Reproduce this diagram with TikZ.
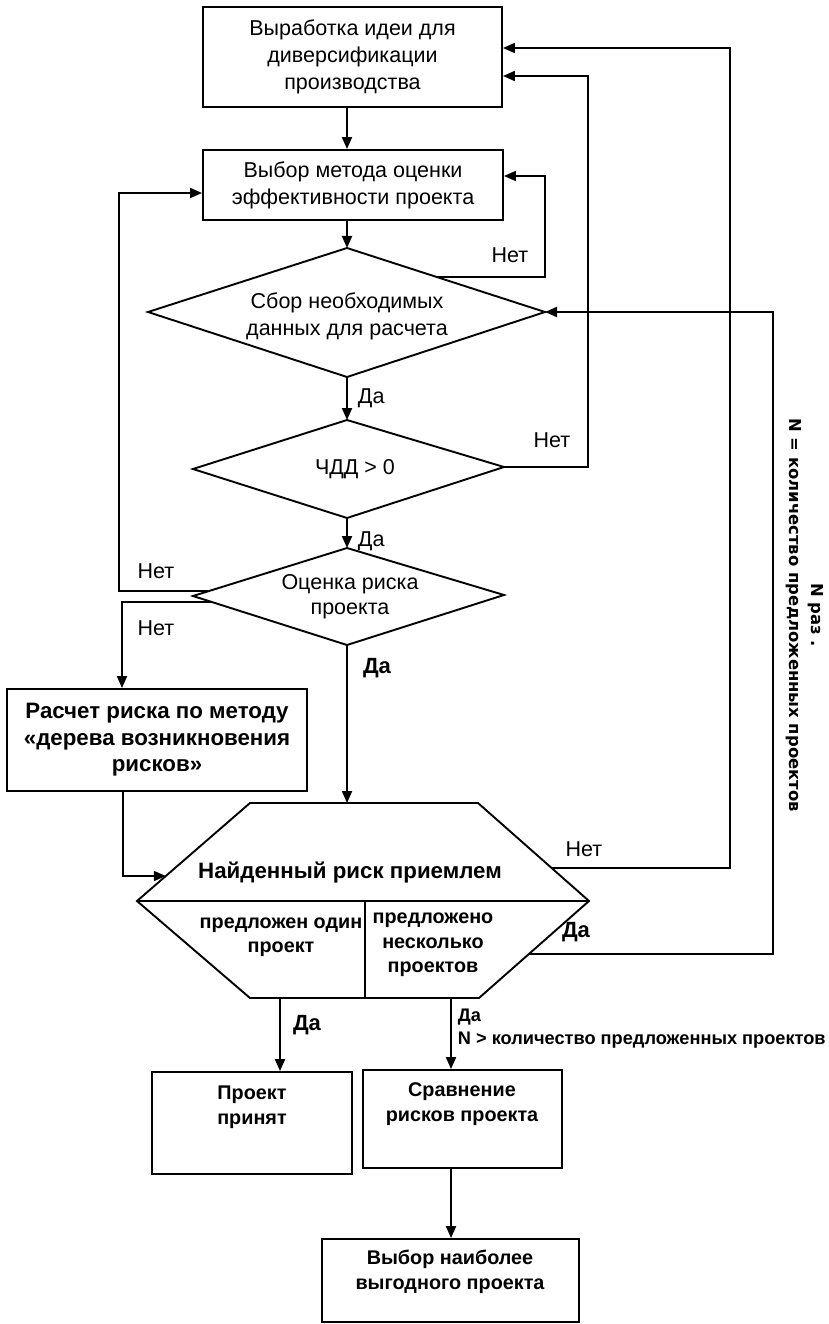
\documentclass[tikz,border=0pt]{standalone}
\usepackage{fontspec}
\setmainfont{Liberation Sans}
\newfontfamily\rotfont{DejaVu Sans}
\usetikzlibrary{arrows.meta,calc}
\begin{document}
\begin{tikzpicture}[x=1pt,y=-1pt,line width=1.9pt,line join=miter,
  box/.style={draw,line width=1.9pt,inner sep=0pt},
  arr/.style={-{Triangle[length=12pt,width=10pt]},line width=1.9pt},
  reg/.style={font=\fontsize{21.5}{27}\selectfont,align=center,inner sep=0pt},
  bld/.style={font=\fontsize{22.3}{26.5}\selectfont\bfseries,align=center,inner sep=0pt},
  sbld/.style={font=\fontsize{19.8}{24.5}\selectfont\bfseries,align=center,inner sep=0pt},
  lab/.style={font=\fontsize{21.5}{27}\selectfont,inner sep=0pt},
  blab/.style={font=\fontsize{22}{23}\selectfont\bfseries,inner sep=0pt}]
\useasboundingbox (0,0) rectangle (829,1324);

% boxes
\node[box,minimum width=299pt,minimum height=100pt,reg] (b1) at (352.5,57) {Выработка идеи для\\диверсификации\\производства};
\node[box,minimum width=300pt,minimum height=70pt,reg] (b2) at (353,185) {Выбор метода оценки\\эффективности проекта};
\node[box,minimum width=300pt,minimum height=102pt,bld] (rasch) at (157,740) {Расчет риска по методу\\«дерева возникновения\\рисков»};
\node[box,minimum width=200pt,minimum height=102pt] (proj) at (252,1123) {};
\node[sbld] (projt) at (252,1107) {Проект\\принят};
\node[box,minimum width=199pt,minimum height=98pt] (srav) at (462.5,1119) {};
\node[sbld] (sravt) at (462,1104) {Сравнение\\рисков проекта};
\node[box,minimum width=257pt,minimum height=83pt] (vyb) at (450.5,1280.5) {};
\node[sbld] (vybt) at (450,1272) {Выбор наиболее\\выгодного проекта};

% diamonds
\coordinate (d1n) at (347,248); \coordinate (d1e) at (545,312);
\coordinate (d1s) at (347,377); \coordinate (d1w) at (148,312);
\draw (d1n) -- (d1e) -- (d1s) -- (d1w) -- cycle;
\node[reg] (d1t) at (347,316) {Сбор необходимых\\данных для расчета};

\coordinate (d2n) at (347,420); \coordinate (d2e) at (504,467);
\coordinate (d2s) at (347,518); \coordinate (d2w) at (193,469);
\draw (d2n) -- (d2e) -- (d2s) -- (d2w) -- cycle;
\node[reg] (d2t) at (355,469) {ЧДД > 0};

\coordinate (d3n) at (347,548); \coordinate (d3e) at (504,595);
\coordinate (d3s) at (347,645); \coordinate (d3w) at (193,596);
\draw (d3n) -- (d3e) -- (d3s) -- (d3w) -- cycle;
\node[font=\fontsize{21.5}{25}\selectfont,align=center,inner sep=0pt] (d3t) at (350,597) {Оценка риска\\проекта};

% hexagon
\coordinate (hA) at (250,803); \coordinate (hB) at (478,803);
\coordinate (hC) at (589,901); \coordinate (hD) at (479,998);
\coordinate (hE) at (250,998); \coordinate (hF) at (137,901);
\coordinate (hM) at (365,901); \coordinate (hMb) at (365,998);
\draw (hA) -- (hB) -- (hC) -- (hD) -- (hE) -- (hF) -- cycle;
\draw (hF) -- (hC);
\draw (hM) -- (hMb);
\node[bld] (ht) at (350,873) {Найденный риск приемлем};
\node[sbld] (hl) at (281,937) {предложен один\\проект};
\node[sbld] (hr) at (433,945) {предложено\\несколько\\проектов};

% main vertical connectors
\coordinate (mx) at (347,0);
\draw[arr] (b1.south -| mx) -- (b2.north -| mx);
\draw[arr] (b2.south -| mx) -- (d1n);
\draw[arr] (d1s) -- (d2n);
\draw[arr] (d2s) -- (d3n);
\draw[arr] (d3s) -- (d3s |- hA);

% loops
\coordinate (l1) at (545,176);
\draw[arr] ($(d1n)!0.45!(d1e)$) -| (l1) -- (l1 -| b2.east);
\coordinate (l2) at (588,76);
\draw[arr] (d2e) -| (l2) -- (l2 -| b1.east);
\coordinate (l3) at (730,48);
\draw[arr] ($(hB)!0.663!(hC)$) -| (l3) -- (l3 -| b1.east);
\coordinate (l4) at (773,0);
\draw[arr] ($(hC)!0.546!(hD)$) -| (l4 |- d1e) -- (d1e);
\coordinate (l5) at (119,193);
\draw[arr] ($(d3w)!0.1!(d3n)$) -| (l5) -- (l5 -| b2.west);
\coordinate (l6) at (122,0);
\draw[arr] ($(d3w)!0.12!(d3s)$) -| (l6 |- rasch.north);
\coordinate (l7) at (123,0);
\draw[arr] (rasch.south -| l7) |- ($(hF)!0.255!(hA)$);

% bottom connectors
\coordinate (x2) at (280,0);
\coordinate (x3) at (451,0);
\draw[arr] (hE -| x2) -- (proj.north -| x2);
\draw[arr] (hD -| x3) -- (srav.north -| x3);
\draw[arr] (srav.south -| x3) -- (vyb.north -| x3);

% labels
\node[lab] (n1) at (510,255) {Нет};
\node[lab,anchor=west] (y1) at (357,398) {Да};
\node[lab] (n2) at (552,440) {Нет};
\node[lab,anchor=west] (y2) at (357,541) {Да};
\node[lab] (n3) at (156,571) {Нет};
\node[lab] (n4) at (156,628) {Нет};
\node[blab] (y3) at (377,668) {Да};
\node[lab] (n5) at (584,849) {Нет};
\node[blab] (y4) at (576,932) {Да};
\node[blab] (y5) at (307,1025) {Да};
\node[font=\fontsize{18.2}{23}\selectfont\bfseries,align=left,anchor=north west,inner sep=0pt] (y6) at (457,1008) {Да\\N > количество предложенных проектов};
\node[rotate=-90,font=\rotfont\fontsize{16.4}{22}\selectfont\bfseries,align=center,inner sep=0pt] (rt) at (805,615) {N раз .\\N = количество предложенных проектов};
\end{tikzpicture}
\end{document}
